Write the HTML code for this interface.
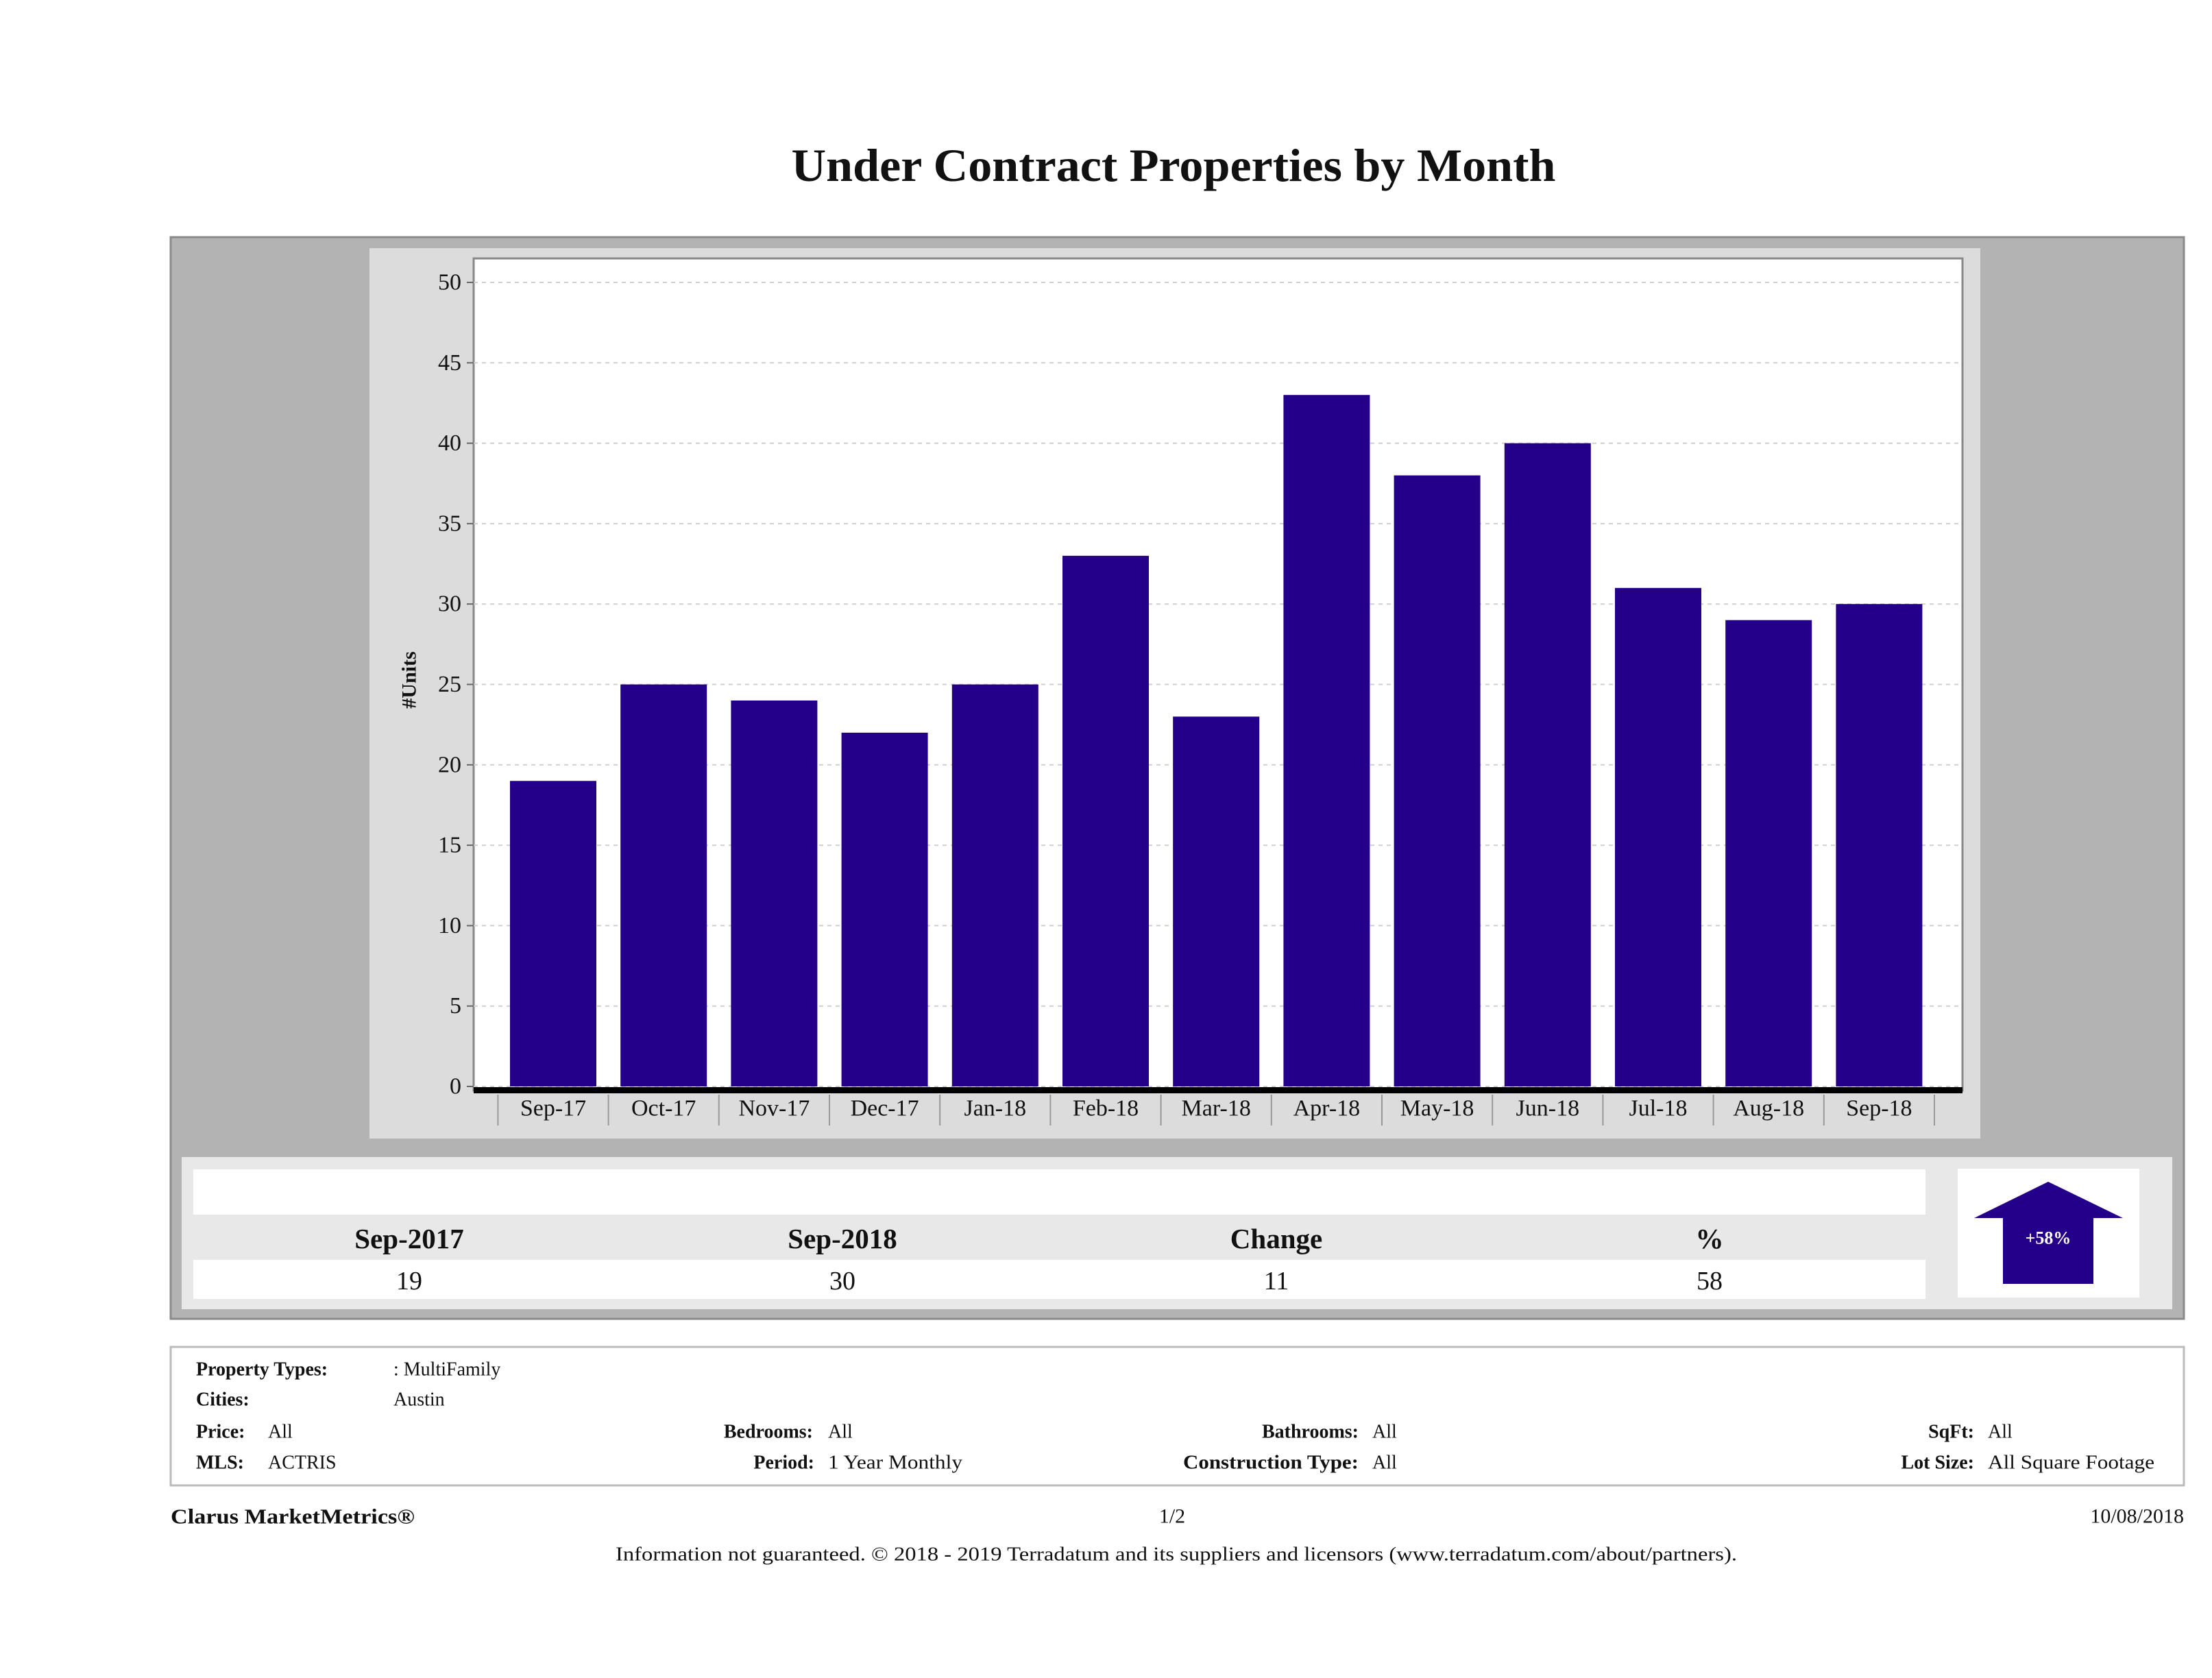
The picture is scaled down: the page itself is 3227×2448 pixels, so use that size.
<!DOCTYPE html>
<html><head><meta charset="utf-8"><style>
html,body{margin:0;padding:0;background:#fff}
svg{display:block}
text{font-family:"Liberation Serif",serif;fill:#111}
</style></head><body>
<svg id="chart" width="3227" height="2448" viewBox="0 0 3227 2448" xmlns="http://www.w3.org/2000/svg">
<text x="1712" y="241" font-size="68" font-weight="bold" text-anchor="middle" dominant-baseline="central" textLength="1115" lengthAdjust="spacingAndGlyphs">Under Contract Properties by Month</text>
<rect x="249" y="346" width="2937" height="1578" fill="#b3b3b3" stroke="#8a8a8a" stroke-width="3"/>
<rect x="539" y="362" width="2350" height="1299" fill="#dcdcdc"/>
<rect x="691" y="377" width="2172" height="1214" fill="#fff" stroke="#888" stroke-width="3"/>
<g id="grid"></g>
<g id="bars"></g>
<g id="yaxis"></g>
<g id="xaxis"></g>
<text x="597" y="992" font-size="30" font-weight="bold" text-anchor="middle" dominant-baseline="central" transform="rotate(-90 597 992)">#Units</text>

<rect x="265" y="1688" width="2904" height="222" fill="#e8e8e8"/>
<rect x="282" y="1706" width="2527" height="66" fill="#fff"/>
<rect x="282" y="1838" width="2527" height="57" fill="#fff"/>
<g font-size="41" font-weight="bold">
<text x="597" y="1807" text-anchor="middle" dominant-baseline="central" font-weight="bold">Sep-2017</text>
<text x="1229" y="1807" text-anchor="middle" dominant-baseline="central" font-weight="bold">Sep-2018</text>
<text x="1862" y="1807" text-anchor="middle" dominant-baseline="central" font-weight="bold">Change</text>
<text x="2494" y="1807" text-anchor="middle" dominant-baseline="central" font-weight="bold">%</text>
</g>
<g font-size="38">
<text x="597" y="1869" text-anchor="middle" dominant-baseline="central">19</text>
<text x="1229" y="1869" text-anchor="middle" dominant-baseline="central">30</text>
<text x="1862" y="1869" text-anchor="middle" dominant-baseline="central">11</text>
<text x="2494" y="1869" text-anchor="middle" dominant-baseline="central">58</text>
</g>
<rect x="2856" y="1705" width="265" height="188" fill="#fff"/>
<polygon points="2988,1724 3097,1777 3054,1777 3054,1873 2922,1873 2922,1777 2880,1777" fill="#24008a"/>
<text x="2988" y="1806" font-size="26" font-weight="bold" text-anchor="middle" dominant-baseline="central" style="fill:#fff">+58%</text>

<rect x="249" y="1965" width="2937" height="202" fill="#fff" stroke="#bbb" stroke-width="3"/>
<g font-size="28">
<text x="286" y="1998" font-weight="bold" dominant-baseline="central">Property Types:</text>
<text x="574" y="1998" dominant-baseline="central">: MultiFamily</text>
<text x="286" y="2042" font-weight="bold" dominant-baseline="central">Cities:</text>
<text x="574" y="2042" dominant-baseline="central">Austin</text>
<text x="286" y="2089" font-weight="bold" dominant-baseline="central">Price:</text>
<text x="391" y="2089" dominant-baseline="central">All</text>
<text x="1186" y="2089" font-weight="bold" text-anchor="end" dominant-baseline="central">Bedrooms:</text>
<text x="1208" y="2089" dominant-baseline="central">All</text>
<text x="1982" y="2089" font-weight="bold" text-anchor="end" dominant-baseline="central">Bathrooms:</text>
<text x="2002" y="2089" dominant-baseline="central">All</text>
<text x="2880" y="2089" font-weight="bold" text-anchor="end" dominant-baseline="central">SqFt:</text>
<text x="2900" y="2089" dominant-baseline="central">All</text>
<text x="286" y="2134" font-weight="bold" dominant-baseline="central">MLS:</text>
<text x="391" y="2134" dominant-baseline="central">ACTRIS</text>
<text x="1188" y="2134" font-weight="bold" text-anchor="end" dominant-baseline="central">Period:</text>
<text x="1208" y="2134" dominant-baseline="central" textLength="196" lengthAdjust="spacingAndGlyphs">1 Year Monthly</text>
<text x="1982" y="2134" font-weight="bold" text-anchor="end" dominant-baseline="central" textLength="256" lengthAdjust="spacingAndGlyphs">Construction Type:</text>
<text x="2002" y="2134" dominant-baseline="central">All</text>
<text x="2880" y="2134" font-weight="bold" text-anchor="end" dominant-baseline="central">Lot Size:</text>
<text x="2900" y="2134" dominant-baseline="central" textLength="243" lengthAdjust="spacingAndGlyphs">All Square Footage</text>
</g>
<text x="249" y="2212" font-size="31" font-weight="bold" dominant-baseline="central" textLength="356" lengthAdjust="spacingAndGlyphs">Clarus MarketMetrics®</text>
<text x="1710" y="2212" font-size="30" text-anchor="middle" dominant-baseline="central">1/2</text>
<text x="3186" y="2212" font-size="30" text-anchor="end" dominant-baseline="central">10/08/2018</text>
<text x="1716" y="2268" font-size="28" text-anchor="middle" dominant-baseline="central" textLength="1636" lengthAdjust="spacingAndGlyphs">Information not guaranteed. © 2018 - 2019 Terradatum and its suppliers and licensors (www.terradatum.com/about/partners).</text>
</svg>
<script>
const categories = ["Sep-17","Oct-17","Nov-17","Dec-17","Jan-18","Feb-18","Mar-18","Apr-18","May-18","Jun-18","Jul-18","Aug-18","Sep-18"];
const units = [19,25,24,22,25,33,23,43,38,40,31,29,30];
const yTicks = [0,5,10,15,20,25,30,35,40,45,50];

const NS = "http://www.w3.org/2000/svg";
const plotL = 691, plotR = 2863;
const y0 = 1585, y50 = 412;
function yScale(v){ return y0 - (v/50)*(y0-y50); }
const firstC = 807, step = 161.2, barW = 126;
function xScale(i){ return firstC + i*step; }
function mk(tag, attrs, parent){
  const el = document.createElementNS(NS, tag);
  for (const k in attrs) el.setAttribute(k, attrs[k]);
  parent.appendChild(el);
  return el;
}
const grid = document.getElementById('grid');
const yaxis = document.getElementById('yaxis');
yTicks.forEach(t => {
  const y = yScale(t);
  const gl = mk('line', {x1:plotL, x2:plotR, y1:y, y2:y, stroke:'#cfcfcf', 'stroke-width':2, 'stroke-dasharray':'6 6'}, grid);
  
  
  const tk = mk('line', {x1:plotL-10, x2:plotL, y1:y, y2:y, stroke:'#666', 'stroke-width':2}, yaxis);
  
  
  const tx = mk('text', {x:673, y:y, 'font-size':34, 'text-anchor':'end', 'dominant-baseline':'central'}, yaxis);
  tx.textContent = t;
  
  
});
const bars = document.getElementById('bars');
units.forEach((v,i) => {
  const yt = yScale(v);
  const r = mk('rect', {x:xScale(i)-barW/2, y:yt, width:barW, height:y0-yt, fill:'#24008a'}, bars);
  
  
});
const xaxis = document.getElementById('xaxis');
const axl = mk('rect', {x:plotL, y:1586, width:plotR-plotL, height:9, fill:'#000'}, xaxis);


categories.forEach((c,i) => {
  const cx = xScale(i);
  const t = mk('text', {x:cx, y:1617, 'font-size':34, 'text-anchor':'middle', 'dominant-baseline':'central'}, xaxis);
  t.textContent = c;
  
  
  const sx = cx - step/2;
  const s = mk('line', {x1:sx, x2:sx, y1:1597, y2:1642, stroke:'#999', 'stroke-width':2}, xaxis);
  
  
  if (i === categories.length-1) {
    const s2 = mk('line', {x1:sx+step, x2:sx+step, y1:1597, y2:1642, stroke:'#999', 'stroke-width':2}, xaxis);
    
    
  }
});
</script>
</body></html>
